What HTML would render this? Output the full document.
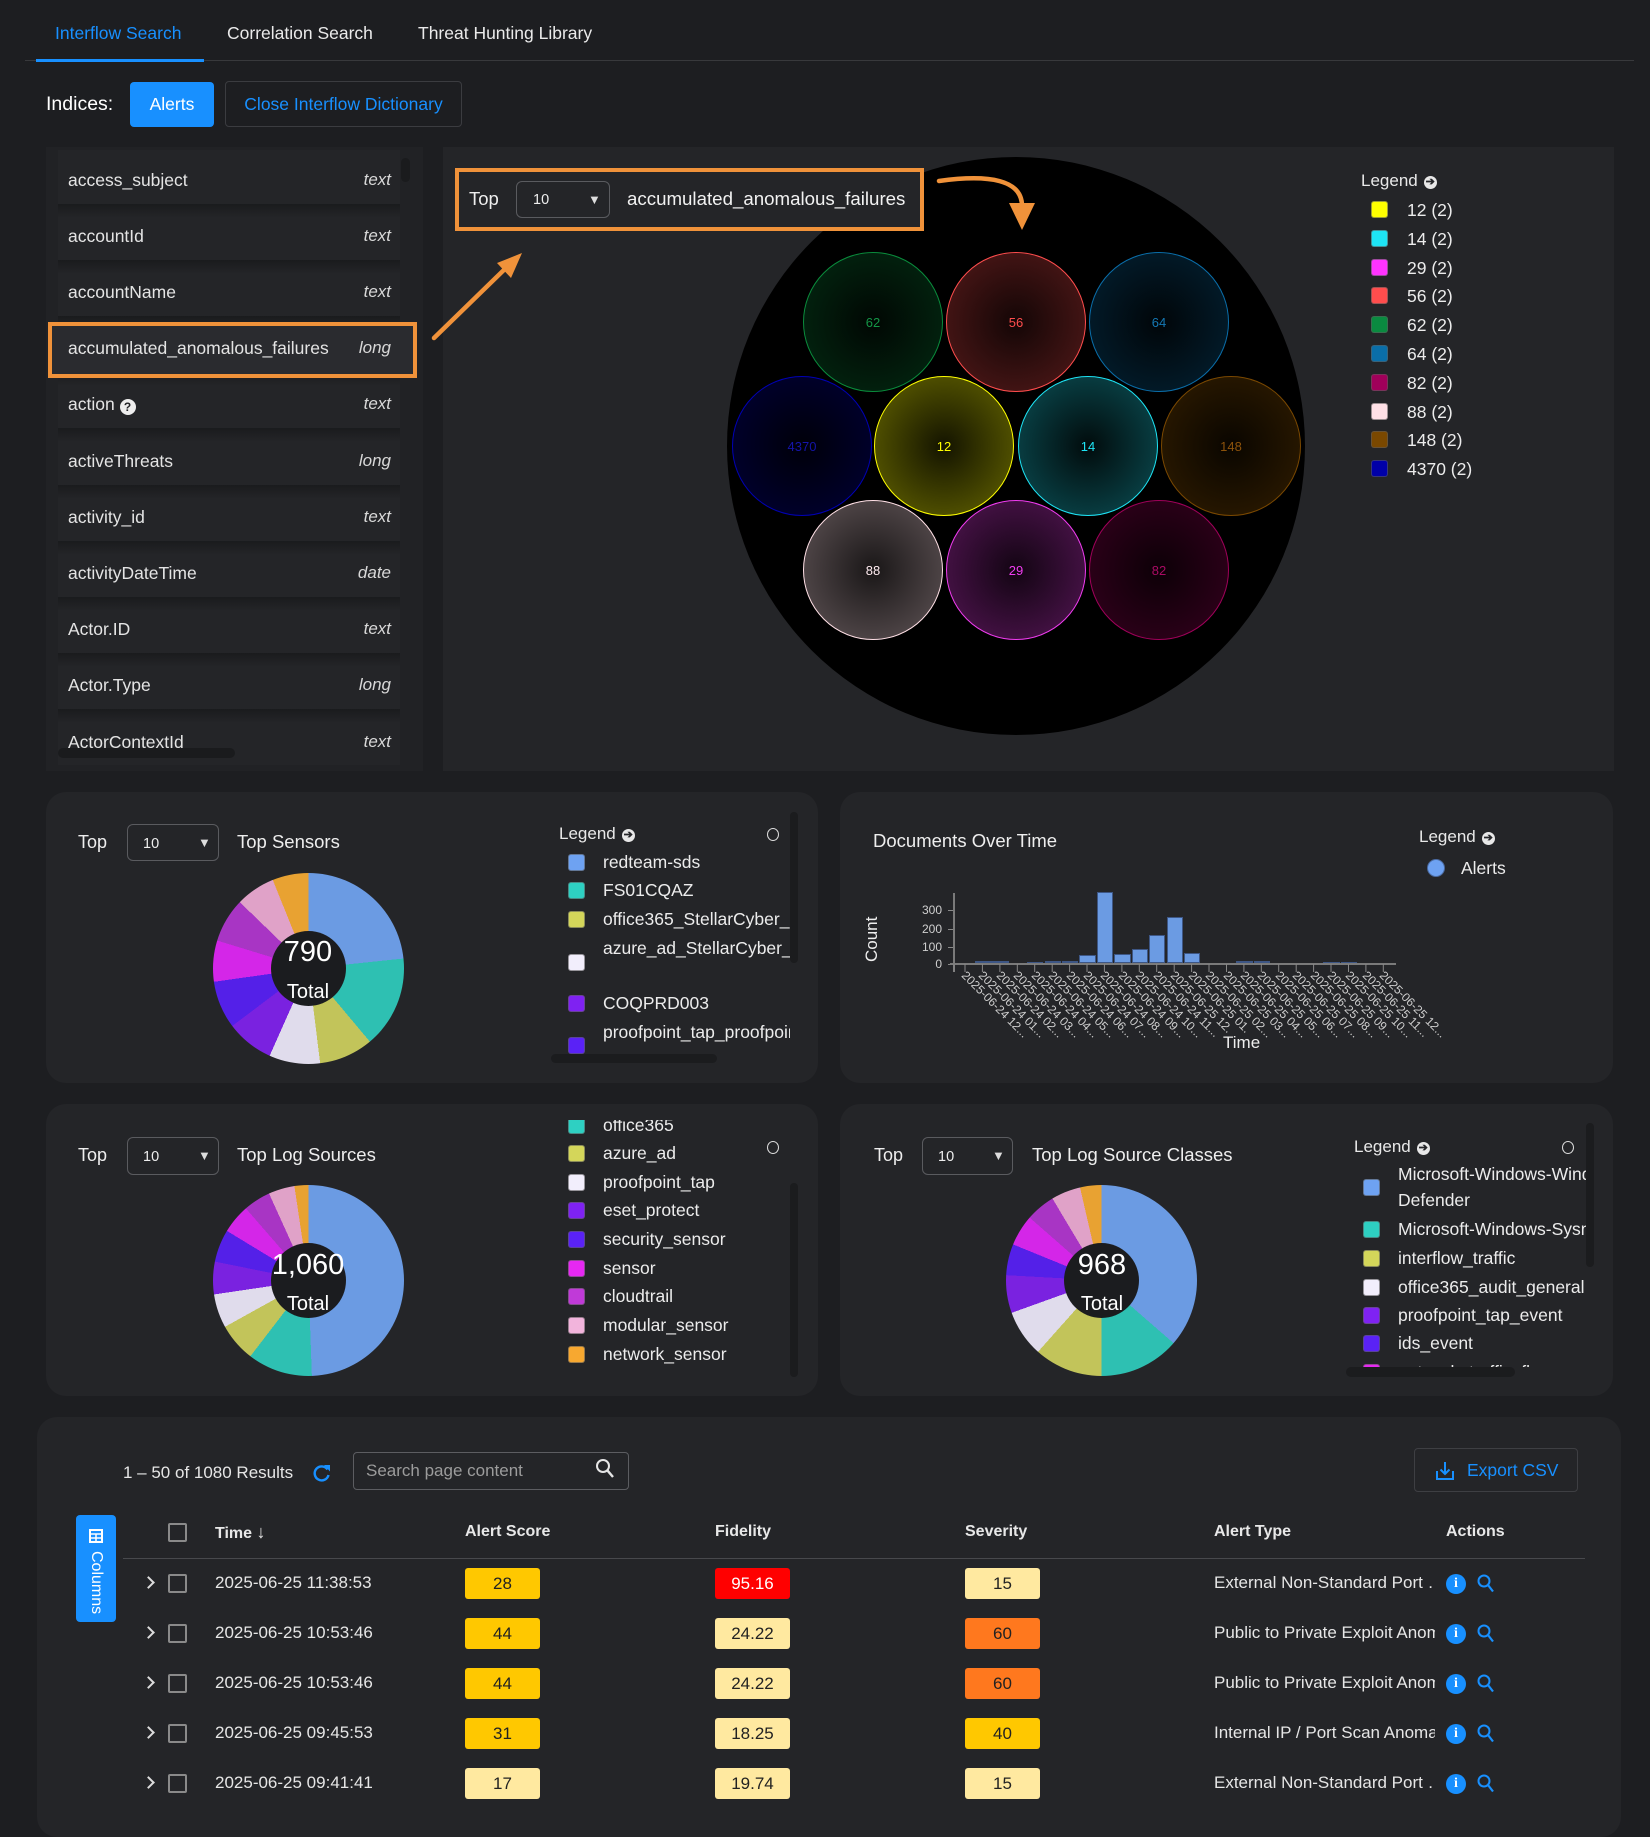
<!DOCTYPE html>
<html><head><meta charset="utf-8"><style>
*{box-sizing:border-box}
body{margin:0;width:1650px;height:1810px;background:#1d1e21;position:relative;overflow:hidden;font-family:"Liberation Sans",Arial,sans-serif;color:#e6e6e6}
.a{position:absolute;white-space:nowrap;line-height:20px}
.pn{position:absolute;background:#242528}
.r20{border-radius:20px}
.lt{font-size:17.5px;color:#e4e4e4}
.ty{font-size:17px;color:#d8d8d8;font-style:italic;text-align:right;width:100px}
.sh{position:absolute;left:58px;width:342px;height:14px;background:linear-gradient(#1a1b1d,rgba(36,37,40,0))}
.dd{position:absolute;border:1px solid #5a5b5f;border-radius:6px}
.dd span{position:absolute;line-height:20px}
.sq{position:absolute;width:17px;height:17px;border-radius:3px;border:1px solid rgba(90,90,90,.6)}
.bub{position:absolute;width:140px;height:140px;border-radius:50%;font-size:13px;line-height:140px;text-align:center}
.donut{position:absolute;border-radius:50%;width:191px;height:191px}
.hole{position:absolute;border-radius:50%;width:75px;height:75px;left:58px;top:58px;background:#1b1c1f}
.li{position:absolute;font-size:17.5px;line-height:20px;color:#ececec;white-space:nowrap}
.oc{position:absolute;width:12px;height:13px;border:1.5px solid #ddd;border-radius:50%}
.lg{position:absolute;font-size:17px;line-height:20px;color:#e8e8e8;white-space:nowrap}
.ico{display:inline-block;width:13px;height:13px;border-radius:50%;background:#e8e8e8;color:#242528;font-size:11px;line-height:13px;text-align:center;font-weight:bold;vertical-align:1px;margin-left:6px}
.bar{position:absolute;width:16.4px;background:#6b9be3;box-shadow:inset 0 0 0 1px rgba(30,40,70,.6)}
.xl{position:absolute;top:969px;font-size:12px;line-height:12px;color:#cfcfcf;white-space:nowrap;transform:rotate(45deg);transform-origin:0 0}
.yl{position:absolute;left:912px;width:30px;text-align:right;font-size:12px;line-height:12px;color:#cfcfcf}
.th{position:absolute;font-size:16px;font-weight:bold;line-height:20px;color:#e8e8e8;white-space:nowrap}
.cb{position:absolute;width:19px;height:19px;border:2px solid #8a8a8a;border-radius:2px}
.chev{position:absolute;width:9px;height:9px;border-right:2px solid #ddd;border-top:2px solid #ddd;transform:rotate(45deg)}
.td{position:absolute;font-size:17px;line-height:20px;color:#e6e6e6;white-space:nowrap}
.bd{position:absolute;width:75px;height:31px;border-radius:3px;font-size:17px;line-height:31px;text-align:center;color:#222}
.y1{background:#ffc800}.y2{background:#ffe9a0}.rd{background:#ff0000;color:#fff}.or{background:#ff781e}
.info{position:absolute;left:1446px;width:20px;height:20px;border-radius:50%;background:#1890ff;color:#fff;font-weight:bold;font-size:14px;line-height:20px;text-align:center;font-family:"Liberation Serif",serif}
.at{position:absolute;left:1214px;width:221px;overflow:hidden;font-size:17px;line-height:20px;color:#e6e6e6;white-space:nowrap}
</style></head><body>

<!-- Tabs -->
<div class="a" style="left:55px;top:23px;font-size:17.5px;color:#1890ff">Interflow Search</div>
<div class="a" style="left:227px;top:23px;font-size:17.5px;color:#eaeaea">Correlation Search</div>
<div class="a" style="left:418px;top:23px;font-size:17.5px;color:#eaeaea">Threat Hunting Library</div>
<div class="a" style="left:25px;top:60px;width:1609px;height:1px;background:#38393c"></div>
<div class="a" style="left:36px;top:59px;width:168px;height:3px;background:#1890ff"></div>

<!-- Indices -->
<div class="a" style="left:46px;top:93px;font-size:19.5px;line-height:22px;color:#fff">Indices:</div>
<div class="a" style="left:130px;top:82px;width:84px;height:45px;background:#1890ff;border-radius:4px;color:#fff;font-size:17.5px;line-height:45px;text-align:center">Alerts</div>
<div class="a" style="left:225px;top:81px;width:237px;height:46px;border:1px solid #3b3c40;border-radius:4px;color:#1890ff;font-size:17.5px;line-height:44px;text-align:center">Close Interflow Dictionary</div>

<!-- Left list panel -->
<div class="a" style="left:46px;top:147px;width:377px;height:624px;background:#212225"></div>
<div class="a" style="left:58px;top:150px;width:342px;height:615px;background:#242528"></div>
<div class="sh" style="top:203.5px"></div>
<div class="sh" style="top:259.7px"></div>
<div class="sh" style="top:315.9px"></div>
<div class="sh" style="top:372.1px"></div>
<div class="sh" style="top:428.3px"></div>
<div class="sh" style="top:484.5px"></div>
<div class="sh" style="top:540.7px"></div>
<div class="sh" style="top:596.9px"></div>
<div class="sh" style="top:653.1px"></div>
<div class="sh" style="top:709.3px"></div>
<div class="a" style="left:52px;top:326px;width:361px;height:48px;background:#2a2b2f"></div>
<div class="a" style="left:48px;top:322px;width:369px;height:56px;border:4px solid #f0923a"></div>

<div class="a lt" style="left:68px;top:169.5px">access_subject</div><div class="a ty" style="left:291px;top:169.5px">text</div>
<div class="a lt" style="left:68px;top:225.7px">accountId</div><div class="a ty" style="left:291px;top:225.7px">text</div>
<div class="a lt" style="left:68px;top:281.9px">accountName</div><div class="a ty" style="left:291px;top:281.9px">text</div>
<div class="a lt" style="left:68px;top:338.1px">accumulated_anomalous_failures</div><div class="a ty" style="left:291px;top:338.1px">long</div>
<div class="a lt" style="left:68px;top:394.3px">action <span style="display:inline-block;width:16px;height:16px;border-radius:50%;background:#eee;color:#242528;font-size:12px;line-height:16px;text-align:center;font-weight:bold;vertical-align:-1px">?</span></div><div class="a ty" style="left:291px;top:394.3px">text</div>
<div class="a lt" style="left:68px;top:450.5px">activeThreats</div><div class="a ty" style="left:291px;top:450.5px">long</div>
<div class="a lt" style="left:68px;top:506.7px">activity_id</div><div class="a ty" style="left:291px;top:506.7px">text</div>
<div class="a lt" style="left:68px;top:562.9px">activityDateTime</div><div class="a ty" style="left:291px;top:562.9px">date</div>
<div class="a lt" style="left:68px;top:619.1px">Actor.ID</div><div class="a ty" style="left:291px;top:619.1px">text</div>
<div class="a lt" style="left:68px;top:675.3px">Actor.Type</div><div class="a ty" style="left:291px;top:675.3px">long</div>
<div class="a lt" style="left:68px;top:731.5px">ActorContextId</div><div class="a ty" style="left:291px;top:731.5px">text</div>
<div class="a" style="left:58px;top:748px;width:177px;height:10px;border-radius:5px;background:#1a1b1d"></div>
<div class="a" style="left:401px;top:158px;width:9px;height:24px;border-radius:5px;background:#1a1b1d"></div>

<!-- Top right big panel -->
<div class="pn" style="left:443px;top:147px;width:1171px;height:624px"></div>
<div class="a" style="left:727px;top:157px;width:578px;height:578px;border-radius:50%;background:#000"></div>

<div class="bub" style="left:803px;top:252px;border:1.5px solid rgb(10,140,60);color:rgb(20,150,70);background:radial-gradient(circle,rgba(10,140,60,.05),rgba(10,140,60,.3))">62</div>
<div class="bub" style="left:946px;top:252px;border:1.5px solid rgb(255,77,77);color:rgb(255,77,77);background:radial-gradient(circle,rgba(255,77,77,.08),rgba(255,77,77,.33))">56</div>
<div class="bub" style="left:1089px;top:252px;border:1.5px solid rgb(10,110,170);color:rgb(20,120,180);background:radial-gradient(circle,rgba(10,110,170,.05),rgba(10,110,170,.3))">64</div>
<div class="bub" style="left:732px;top:376px;border:1.5px solid rgb(0,0,180);color:rgb(20,20,170);background:radial-gradient(circle,rgba(0,0,180,.05),rgba(0,0,180,.3))">4370</div>
<div class="bub" style="left:874px;top:376px;border:1.5px solid rgb(255,255,0);color:rgb(255,255,0);background:radial-gradient(circle,rgba(255,255,0,.08),rgba(255,255,0,.4))">12</div>
<div class="bub" style="left:1018px;top:376px;border:1.5px solid rgb(30,228,245);color:rgb(30,228,245);background:radial-gradient(circle,rgba(30,228,245,.05),rgba(30,228,245,.35))">14</div>
<div class="bub" style="left:1161px;top:376px;border:1.5px solid rgb(122,72,0);color:rgb(140,82,10);background:radial-gradient(circle,rgba(122,72,0,.08),rgba(122,72,0,.4))">148</div>
<div class="bub" style="left:803px;top:500px;border:1.5px solid rgb(255,224,230);color:rgb(255,235,240);background:radial-gradient(circle,rgba(255,224,230,.1),rgba(255,224,230,.38))">88</div>
<div class="bub" style="left:946px;top:500px;border:1.5px solid rgb(240,60,240);color:rgb(240,60,240);background:radial-gradient(circle,rgba(240,60,240,.08),rgba(240,60,240,.35))">29</div>
<div class="bub" style="left:1089px;top:500px;border:1.5px solid rgb(160,0,90);color:rgb(170,10,100);background:radial-gradient(circle,rgba(160,0,90,.08),rgba(160,0,90,.33))">82</div>

<!-- orange top box -->
<div class="a" style="left:455px;top:168px;width:469px;height:63px;border:4px solid #f0923a;background:#242528"></div>
<div class="a" style="left:469px;top:189px;font-size:18.5px;color:#eee">Top</div>
<div class="dd" style="left:516px;top:181px;width:94px;height:37px"><span style="left:16px;top:8px;font-size:14.5px;color:#eee">10</span><span style="left:71px;top:8px;font-size:13px;color:#ddd">▼</span></div>
<div class="a" style="left:627px;top:189px;font-size:18.7px;color:#f2f2f2">accumulated_anomalous_failures</div>

<svg class="a" style="left:0;top:0" width="1650" height="800">
<path d="M939 181 C 990 174, 1022 180, 1022 206" stroke="#f0923a" stroke-width="4.5" fill="none" stroke-linecap="round"/>
<polygon points="1009,203 1035,203 1022,230" fill="#f0923a"/>
<line x1="434" y1="338" x2="508" y2="266" stroke="#f0923a" stroke-width="4.5" stroke-linecap="round"/>
<polygon points="522,253 511,278 497,263" fill="#f0923a"/>
</svg>

<!-- Big legend -->
<div class="lg" style="left:1361px;top:171px">Legend<span class="ico">➔</span></div>
<div class="sq" style="left:1371px;top:201px;background:#ffff00"></div><div class="li" style="left:1407px;top:200px">12 (2)</div>
<div class="sq" style="left:1371px;top:229.8px;background:#1ee4f5"></div><div class="li" style="left:1407px;top:228.8px">14 (2)</div>
<div class="sq" style="left:1371px;top:258.6px;background:#ff33ff"></div><div class="li" style="left:1407px;top:257.6px">29 (2)</div>
<div class="sq" style="left:1371px;top:287.4px;background:#ff4d4d"></div><div class="li" style="left:1407px;top:286.4px">56 (2)</div>
<div class="sq" style="left:1371px;top:316.2px;background:#0a8a40"></div><div class="li" style="left:1407px;top:315.2px">62 (2)</div>
<div class="sq" style="left:1371px;top:345px;background:#0a6ea8"></div><div class="li" style="left:1407px;top:344px">64 (2)</div>
<div class="sq" style="left:1371px;top:373.8px;background:#a0005a"></div><div class="li" style="left:1407px;top:372.8px">82 (2)</div>
<div class="sq" style="left:1371px;top:402.6px;background:#ffe0e6"></div><div class="li" style="left:1407px;top:401.6px">88 (2)</div>
<div class="sq" style="left:1371px;top:431.4px;background:#7a4800"></div><div class="li" style="left:1407px;top:430.4px">148 (2)</div>
<div class="sq" style="left:1371px;top:460.2px;background:#0000a8"></div><div class="li" style="left:1407px;top:459.2px">4370 (2)</div>

<!-- Row 2 left: Top Sensors -->
<div class="pn r20" style="left:46px;top:792px;width:772px;height:291px"></div>
<div class="a" style="left:78px;top:832px;font-size:18px;color:#eee">Top</div>
<div class="dd" style="left:127px;top:824px;width:92px;height:37px"><span style="left:15px;top:9px;font-size:14.5px;color:#eee">10</span><span style="left:70px;top:8px;font-size:13px;color:#ddd">▼</span></div>
<div class="a" style="left:237px;top:832px;font-size:18.5px;color:#eee">Top Sensors</div>
<div class="donut" style="left:213px;top:873px;background:conic-gradient(#6b9be3 0 84deg,#2ec0b2 84deg 140deg,#c2c45a 140deg 173deg,#e0dcec 173deg 204deg,#7a22e0 204deg 233deg,#5420e8 233deg 262deg,#d426e8 262deg 287deg,#a835c4 287deg 314deg,#e0a2c8 314deg 338deg,#e8a232 338deg 360deg)"><div class="hole"></div></div>
<div class="a" style="left:248px;top:936px;width:120px;text-align:center;font-size:29px;line-height:32px;color:#fff">790</div>
<div class="a" style="left:248px;top:981px;width:120px;text-align:center;font-size:20px;line-height:22px;color:#fff">Total</div>
<div class="lg" style="left:559px;top:824px">Legend<span class="ico">➔</span></div>
<div class="oc" style="left:767px;top:828px"></div>
<div class="a" style="left:560px;top:848px;width:230px;height:206px;overflow:hidden">
 <div class="sq" style="left:8px;top:5.5px;background:#6ea2f2"></div><div class="li" style="left:43px;top:4px">redteam-sds</div>
 <div class="sq" style="left:8px;top:33.5px;background:#2ed0c2"></div><div class="li" style="left:43px;top:32px">FS01CQAZ</div>
 <div class="sq" style="left:8px;top:62.5px;background:#d4d65a"></div><div class="li" style="left:43px;top:61px">office365_StellarCyber_Connector</div>
 <div class="sq" style="left:8px;top:105.5px;background:#f2eefc"></div><div class="li" style="left:43px;top:90px">azure_ad_StellarCyber_Connector</div>
 <div class="sq" style="left:8px;top:146.5px;background:#7f22f2"></div><div class="li" style="left:43px;top:145px">COQPRD003</div>
 <div class="sq" style="left:8px;top:188.5px;background:#5a22f6"></div><div class="li" style="left:43px;top:174px">proofpoint_tap_proofpoint</div>
</div>
<div class="a" style="left:790px;top:812px;width:8px;height:151px;border-radius:4px;background:#1b1c1e"></div>
<div class="a" style="left:551px;top:1054px;width:166px;height:9px;border-radius:5px;background:#1b1c1e"></div>

<!-- Row 2 right: Documents Over Time -->
<div class="pn r20" style="left:840px;top:792px;width:773px;height:291px"></div>
<div class="a" style="left:873px;top:831px;font-size:18.5px;color:#eee">Documents Over Time</div>
<div class="lg" style="left:1419px;top:827px">Legend<span class="ico">➔</span></div>
<div class="a" style="left:1427px;top:859px;width:18px;height:18px;border-radius:50%;background:#6ea2f2;border:1px solid #4a6aa0"></div>
<div class="li" style="left:1461px;top:858px">Alerts</div>
<div class="a" style="left:860px;top:928px;font-size:17px;line-height:20px;color:#eee;transform:rotate(-90deg);transform-origin:center;width:24px;text-align:center"><span style="display:inline-block;margin-left:-12px">Count</span></div>
<div class="yl" style="top:904px">300</div>
<div class="yl" style="top:923px">200</div>
<div class="yl" style="top:941px">100</div>
<div class="yl" style="top:958px">0</div>
<div class="a" style="left:948px;top:910px;width:6px;height:1px;background:#888"></div>
<div class="a" style="left:948px;top:929px;width:6px;height:1px;background:#888"></div>
<div class="a" style="left:948px;top:947px;width:6px;height:1px;background:#888"></div>
<div class="a" style="left:948px;top:964px;width:6px;height:1px;background:#888"></div>
<div class="a" style="left:953px;top:893px;width:2px;height:79px;background:#7a7a7a"></div>
<!-- bars -->
<div class="bar" style="left:975.3px;top:961px;height:2px"></div>
<div class="bar" style="left:992.3px;top:961px;height:2px"></div>
<div class="bar" style="left:1027.1px;top:962px;height:1px"></div>
<div class="bar" style="left:1044.6px;top:960.5px;height:2.5px"></div>
<div class="bar" style="left:1062px;top:961px;height:2px"></div>
<div class="bar" style="left:1079.4px;top:955px;height:8px"></div>
<div class="bar" style="left:1096.9px;top:892px;height:71px"></div>
<div class="bar" style="left:1114.3px;top:953.5px;height:9.5px"></div>
<div class="bar" style="left:1131.7px;top:949px;height:14px"></div>
<div class="bar" style="left:1149.1px;top:935px;height:28px"></div>
<div class="bar" style="left:1166.6px;top:917px;height:46px"></div>
<div class="bar" style="left:1184px;top:953px;height:10px"></div>
<div class="bar" style="left:1236.3px;top:961.3px;height:1.7px"></div>
<div class="bar" style="left:1253.7px;top:961.3px;height:1.7px"></div>
<div class="bar" style="left:1323.4px;top:962px;height:1px"></div>
<div class="bar" style="left:1340.9px;top:962px;height:1px"></div>
<div class="a" style="left:950px;top:963px;width:446px;height:2px;background:#7a7a7a"></div>
<svg class="a" style="left:940px;top:960px" width="470" height="16"><g stroke="#888" stroke-width="1">
<line x1="25" y1="4" x2="25" y2="12"/><line x1="42.4" y1="4" x2="42.4" y2="12"/><line x1="59.9" y1="4" x2="59.9" y2="12"/><line x1="77.3" y1="4" x2="77.3" y2="12"/><line x1="94.7" y1="4" x2="94.7" y2="12"/><line x1="112.2" y1="4" x2="112.2" y2="12"/><line x1="129.6" y1="4" x2="129.6" y2="12"/><line x1="147" y1="4" x2="147" y2="12"/><line x1="164.4" y1="4" x2="164.4" y2="12"/><line x1="181.9" y1="4" x2="181.9" y2="12"/><line x1="199.3" y1="4" x2="199.3" y2="12"/><line x1="216.7" y1="4" x2="216.7" y2="12"/><line x1="234.2" y1="4" x2="234.2" y2="12"/><line x1="251.6" y1="4" x2="251.6" y2="12"/><line x1="269" y1="4" x2="269" y2="12"/><line x1="286.5" y1="4" x2="286.5" y2="12"/><line x1="303.9" y1="4" x2="303.9" y2="12"/><line x1="321.3" y1="4" x2="321.3" y2="12"/><line x1="338.7" y1="4" x2="338.7" y2="12"/><line x1="356.2" y1="4" x2="356.2" y2="12"/><line x1="373.6" y1="4" x2="373.6" y2="12"/><line x1="391" y1="4" x2="391" y2="12"/><line x1="408.5" y1="4" x2="408.5" y2="12"/><line x1="425.9" y1="4" x2="425.9" y2="12"/><line x1="443.3" y1="4" x2="443.3" y2="12"/><line x1="14" y1="4" x2="14" y2="12"/>
</g></svg>
<div class="xl" style="left:968px">2025-06-24 12...</div>
<div class="xl" style="left:985.4px">2025-06-24 01...</div>
<div class="xl" style="left:1002.9px">2025-06-24 02...</div>
<div class="xl" style="left:1020.3px">2025-06-24 03...</div>
<div class="xl" style="left:1037.7px">2025-06-24 04...</div>
<div class="xl" style="left:1055.2px">2025-06-24 05...</div>
<div class="xl" style="left:1072.6px">2025-06-24 06...</div>
<div class="xl" style="left:1090px">2025-06-24 07...</div>
<div class="xl" style="left:1107.4px">2025-06-24 08...</div>
<div class="xl" style="left:1124.9px">2025-06-24 09...</div>
<div class="xl" style="left:1142.3px">2025-06-24 10...</div>
<div class="xl" style="left:1159.7px">2025-06-24 11...</div>
<div class="xl" style="left:1177.2px">2025-06-25 12...</div>
<div class="xl" style="left:1194.6px">2025-06-25 01...</div>
<div class="xl" style="left:1212px">2025-06-25 02...</div>
<div class="xl" style="left:1229.5px">2025-06-25 03...</div>
<div class="xl" style="left:1246.9px">2025-06-25 04...</div>
<div class="xl" style="left:1264.3px">2025-06-25 05...</div>
<div class="xl" style="left:1281.7px">2025-06-25 06...</div>
<div class="xl" style="left:1299.2px">2025-06-25 07...</div>
<div class="xl" style="left:1316.6px">2025-06-25 08...</div>
<div class="xl" style="left:1334px">2025-06-25 09...</div>
<div class="xl" style="left:1351.5px">2025-06-25 10...</div>
<div class="xl" style="left:1368.9px">2025-06-25 11...</div>
<div class="xl" style="left:1386.3px">2025-06-25 12...</div>
<div class="a" style="left:1222px;top:1033px;font-size:17px;color:#eee;background:#242528;padding:0 1px">Time</div>

<!-- Row 3 left: Top Log Sources -->
<div class="pn r20" style="left:46px;top:1104px;width:772px;height:292px"></div>
<div class="a" style="left:78px;top:1145px;font-size:18px;color:#eee">Top</div>
<div class="dd" style="left:127px;top:1137px;width:92px;height:38px"><span style="left:15px;top:9px;font-size:14.5px;color:#eee">10</span><span style="left:70px;top:8px;font-size:13px;color:#ddd">▼</span></div>
<div class="a" style="left:237px;top:1145px;font-size:18.5px;color:#eee">Top Log Sources</div>
<div class="donut" style="left:213px;top:1185px;background:conic-gradient(#6b9be3 0 178deg,#2ec0b2 178deg 217.5deg,#c2c45a 217.5deg 241deg,#e0dcec 241deg 261.6deg,#7a22e0 261.6deg 281.4deg,#5420e8 281.4deg 301.3deg,#d426e8 301.3deg 319deg,#a835c4 319deg 335.6deg,#e0a2c8 335.6deg 351.5deg,#e8a232 351.5deg 360deg)"><div class="hole"></div></div>
<div class="a" style="left:238px;top:1249px;width:140px;text-align:center;font-size:29px;line-height:32px;color:#fff">1,060</div>
<div class="a" style="left:248px;top:1293px;width:120px;text-align:center;font-size:20px;line-height:22px;color:#fff">Total</div>
<div class="oc" style="left:767px;top:1141px"></div>
<div class="a" style="left:560px;top:1120px;width:230px;height:260px;overflow:hidden">
 <div class="sq" style="left:8px;top:-3.5px;background:#2ed0c2"></div><div class="li" style="left:43px;top:-5px">office365</div>
 <div class="sq" style="left:8px;top:24.5px;background:#d4d65a"></div><div class="li" style="left:43px;top:23px">azure_ad</div>
 <div class="sq" style="left:8px;top:53.5px;background:#f2eefc"></div><div class="li" style="left:43px;top:52px">proofpoint_tap</div>
 <div class="sq" style="left:8px;top:81.5px;background:#7f22f2"></div><div class="li" style="left:43px;top:80px">eset_protect</div>
 <div class="sq" style="left:8px;top:110.5px;background:#5a22f6"></div><div class="li" style="left:43px;top:109px">security_sensor</div>
 <div class="sq" style="left:8px;top:139.5px;background:#e628f2"></div><div class="li" style="left:43px;top:138px">sensor</div>
 <div class="sq" style="left:8px;top:167.5px;background:#c03ad8"></div><div class="li" style="left:43px;top:166px">cloudtrail</div>
 <div class="sq" style="left:8px;top:196.5px;background:#f2b4dc"></div><div class="li" style="left:43px;top:195px">modular_sensor</div>
 <div class="sq" style="left:8px;top:225.5px;background:#f7a830"></div><div class="li" style="left:43px;top:224px">network_sensor</div>
</div>
<div class="a" style="left:790px;top:1183px;width:8px;height:194px;border-radius:4px;background:#1b1c1e"></div>

<!-- Row 3 right: Top Log Source Classes -->
<div class="pn r20" style="left:840px;top:1104px;width:773px;height:292px"></div>
<div class="a" style="left:874px;top:1145px;font-size:18px;color:#eee">Top</div>
<div class="dd" style="left:922px;top:1137px;width:91px;height:38px"><span style="left:15px;top:9px;font-size:14.5px;color:#eee">10</span><span style="left:69px;top:8px;font-size:13px;color:#ddd">▼</span></div>
<div class="a" style="left:1032px;top:1145px;font-size:18.5px;color:#eee">Top Log Source Classes</div>
<div class="donut" style="left:1006px;top:1185px;background:conic-gradient(#6b9be3 0 131deg,#2ec0b2 131deg 180deg,#c2c45a 180deg 221.7deg,#e0dcec 221.7deg 250.2deg,#7a22e0 250.2deg 273.2deg,#5420e8 273.2deg 292.2deg,#d426e8 292.2deg 311.2deg,#a835c4 311.2deg 329.1deg,#e0a2c8 329.1deg 347deg,#e8a232 347deg 360deg)"><div class="hole"></div></div>
<div class="a" style="left:1042px;top:1249px;width:120px;text-align:center;font-size:29px;line-height:32px;color:#fff">968</div>
<div class="a" style="left:1042px;top:1293px;width:120px;text-align:center;font-size:20px;line-height:22px;color:#fff">Total</div>
<div class="lg" style="left:1354px;top:1137px">Legend<span class="ico">➔</span></div>
<div class="oc" style="left:1562px;top:1141px"></div>
<div class="a" style="left:1355px;top:1160px;width:231px;height:207px;overflow:hidden">
 <div class="sq" style="left:8px;top:18.5px;background:#6ea2f2"></div><div class="li" style="left:43px;top:4px">Microsoft-Windows-Windows</div><div class="li" style="left:43px;top:30px">Defender</div>
 <div class="sq" style="left:8px;top:60.5px;background:#2ed0c2"></div><div class="li" style="left:43px;top:59px">Microsoft-Windows-Sysmon</div>
 <div class="sq" style="left:8px;top:89.5px;background:#d4d65a"></div><div class="li" style="left:43px;top:88px">interflow_traffic</div>
 <div class="sq" style="left:8px;top:118.5px;background:#f2eefc"></div><div class="li" style="left:43px;top:117px">office365_audit_general</div>
 <div class="sq" style="left:8px;top:146.5px;background:#7f22f2"></div><div class="li" style="left:43px;top:145px">proofpoint_tap_event</div>
 <div class="sq" style="left:8px;top:174.5px;background:#5a22f6"></div><div class="li" style="left:43px;top:173px">ids_event</div>
 <div class="sq" style="left:8px;top:203.5px;background:#e628f2"></div><div class="li" style="left:43px;top:202px">network_traffic_flow</div>
</div>
<div class="a" style="left:1586px;top:1123px;width:8px;height:144px;border-radius:4px;background:#1b1c1e"></div>
<div class="a" style="left:1346px;top:1367px;width:169px;height:10px;border-radius:5px;background:#1b1c1e"></div>

<!-- Table panel -->
<div class="pn r20" style="left:37px;top:1417px;width:1584px;height:420px"></div>
<div class="td" style="left:123px;top:1463px">1 – 50 of 1080 Results</div>
<svg class="a" style="left:312px;top:1463px" width="20" height="20"><path d="M15.5 6.5 A7 7 0 1 0 16.5 12" stroke="#1890ff" stroke-width="2.4" fill="none"/><polygon points="12,2 18,2 18,8.5" fill="#1890ff"/></svg>
<div class="a" style="left:353px;top:1452px;width:276px;height:38px;border:1px solid #5c5d61;border-radius:4px"></div>
<div class="a" style="left:366px;top:1461px;font-size:17px;color:#9c9c9c">Search page content</div>
<svg class="a" style="left:595px;top:1458px" width="20" height="22"><circle cx="8" cy="8" r="6" stroke="#e6e6e6" stroke-width="2" fill="none"/><line x1="12.3" y1="12.3" x2="18" y2="19" stroke="#e6e6e6" stroke-width="2.4"/></svg>
<div class="a" style="left:1414px;top:1448px;width:164px;height:44px;border:1px solid #3e3f43;border-radius:4px"></div>
<svg class="a" style="left:1435px;top:1460px" width="20" height="22"><path d="M2 11 V19 H18 V11" stroke="#1890ff" stroke-width="2" fill="none"/><line x1="10" y1="2" x2="10" y2="14" stroke="#1890ff" stroke-width="2"/><polyline points="5.5,9.5 10,14 14.5,9.5" stroke="#1890ff" stroke-width="2" fill="none"/></svg>
<div class="a" style="left:1467px;top:1460px;font-size:17.5px;color:#1890ff">Export CSV</div>

<div class="a" style="left:76px;top:1515px;width:40px;height:107px;background:#1890ff;border-radius:4px"></div>
<svg class="a" style="left:89px;top:1529px" width="14" height="14"><rect x="1" y="1" width="12" height="12" fill="none" stroke="#fff" stroke-width="2"/><line x1="1" y1="5" x2="13" y2="5" stroke="#fff" stroke-width="1.5"/><line x1="1" y1="9" x2="13" y2="9" stroke="#fff" stroke-width="1.5"/><line x1="7" y1="5" x2="7" y2="13" stroke="#fff" stroke-width="1.5"/></svg>
<div class="a" style="left:86px;top:1551px;writing-mode:vertical-rl;font-size:16px;line-height:20px;color:#fff">Columns</div>

<div class="cb" style="left:168px;top:1523px"></div>
<div class="th" style="left:215px;top:1522px">Time <span style="font-weight:normal;font-size:18px">↓</span></div>
<div class="th" style="left:465px;top:1522px">Alert Score</div>
<div class="th" style="left:715px;top:1522px">Fidelity</div>
<div class="th" style="left:965px;top:1522px">Severity</div>
<div class="th" style="left:1214px;top:1522px">Alert Type</div>
<div class="th" style="left:1446px;top:1522px">Actions</div>
<div class="a" style="left:123px;top:1558px;width:1462px;height:1px;background:#48494d"></div>

<!-- rows -->
<div class="chev" style="left:144px;top:1578px"></div><div class="cb" style="left:168px;top:1574px"></div>
<div class="td" style="left:215px;top:1573px">2025-06-25 11:38:53</div>
<div class="bd y1" style="left:465px;top:1568px">28</div><div class="bd rd" style="left:715px;top:1568px">95.16</div><div class="bd y2" style="left:965px;top:1568px">15</div>
<div class="at" style="top:1573px">External Non-Standard Port …</div>
<div class="info" style="top:1574px">i</div>
<svg class="a" style="left:1477px;top:1574px" width="18" height="20"><circle cx="7" cy="7" r="5.5" stroke="#1890ff" stroke-width="2" fill="none"/><line x1="11" y1="11" x2="16" y2="17.5" stroke="#1890ff" stroke-width="2.2"/></svg>

<div class="chev" style="left:144px;top:1628px"></div><div class="cb" style="left:168px;top:1624px"></div>
<div class="td" style="left:215px;top:1623px">2025-06-25 10:53:46</div>
<div class="bd y1" style="left:465px;top:1618px">44</div><div class="bd y2" style="left:715px;top:1618px">24.22</div><div class="bd or" style="left:965px;top:1618px">60</div>
<div class="at" style="top:1623px">Public to Private Exploit Anomaly</div>
<div class="info" style="top:1624px">i</div>
<svg class="a" style="left:1477px;top:1624px" width="18" height="20"><circle cx="7" cy="7" r="5.5" stroke="#1890ff" stroke-width="2" fill="none"/><line x1="11" y1="11" x2="16" y2="17.5" stroke="#1890ff" stroke-width="2.2"/></svg>

<div class="chev" style="left:144px;top:1678px"></div><div class="cb" style="left:168px;top:1674px"></div>
<div class="td" style="left:215px;top:1673px">2025-06-25 10:53:46</div>
<div class="bd y1" style="left:465px;top:1668px">44</div><div class="bd y2" style="left:715px;top:1668px">24.22</div><div class="bd or" style="left:965px;top:1668px">60</div>
<div class="at" style="top:1673px">Public to Private Exploit Anomaly</div>
<div class="info" style="top:1674px">i</div>
<svg class="a" style="left:1477px;top:1674px" width="18" height="20"><circle cx="7" cy="7" r="5.5" stroke="#1890ff" stroke-width="2" fill="none"/><line x1="11" y1="11" x2="16" y2="17.5" stroke="#1890ff" stroke-width="2.2"/></svg>

<div class="chev" style="left:144px;top:1728px"></div><div class="cb" style="left:168px;top:1724px"></div>
<div class="td" style="left:215px;top:1723px">2025-06-25 09:45:53</div>
<div class="bd y1" style="left:465px;top:1718px">31</div><div class="bd y2" style="left:715px;top:1718px">18.25</div><div class="bd y1" style="left:965px;top:1718px">40</div>
<div class="at" style="top:1723px">Internal IP / Port Scan Anomaly</div>
<div class="info" style="top:1724px">i</div>
<svg class="a" style="left:1477px;top:1724px" width="18" height="20"><circle cx="7" cy="7" r="5.5" stroke="#1890ff" stroke-width="2" fill="none"/><line x1="11" y1="11" x2="16" y2="17.5" stroke="#1890ff" stroke-width="2.2"/></svg>

<div class="chev" style="left:144px;top:1778px"></div><div class="cb" style="left:168px;top:1774px"></div>
<div class="td" style="left:215px;top:1773px">2025-06-25 09:41:41</div>
<div class="bd y2" style="left:465px;top:1768px">17</div><div class="bd y2" style="left:715px;top:1768px">19.74</div><div class="bd y2" style="left:965px;top:1768px">15</div>
<div class="at" style="top:1773px">External Non-Standard Port …</div>
<div class="info" style="top:1774px">i</div>
<svg class="a" style="left:1477px;top:1774px" width="18" height="20"><circle cx="7" cy="7" r="5.5" stroke="#1890ff" stroke-width="2" fill="none"/><line x1="11" y1="11" x2="16" y2="17.5" stroke="#1890ff" stroke-width="2.2"/></svg>

</body></html>
